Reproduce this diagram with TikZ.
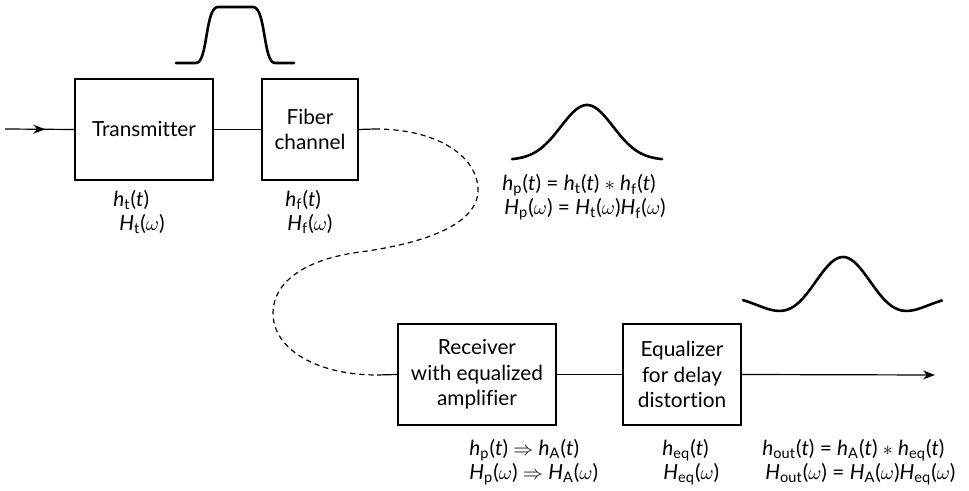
\documentclass[tikz,border=0pt]{standalone}
\usepackage{fontspec}
\usepackage{amsmath}
\setmainfont{Lato}[RawFeature=-liga]
\usetikzlibrary{arrows.meta,decorations.markings}
\newcommand\vi[1]{\textit{#1}}
\newcommand\sbs[1]{$_{\text{#1}}$}
\newcommand\om{$\omega$}
\begin{document}
\begin{tikzpicture}[x=0.5pt,y=-0.5pt,
  box/.style={draw,line width=0.6pt,minimum height=50.5pt,inner sep=1pt,align=center,font=\fontsize{10.4}{12.7}\selectfont},
  lbl/.style={anchor=west,inner sep=0pt,font=\fontsize{10.4}{12}\selectfont},
  wire/.style={line width=0.6pt},
  dashwire/.style={line width=0.6pt,dash pattern=on 2.6pt off 2pt},
  pulse/.style={line width=1.3pt,line cap=round},
  tip/.style={-{Stealth[length=6pt,width=4.5pt]}}]
\useasboundingbox (0,0) rectangle (969,491);

% boxes
\node[box,minimum width=69pt] (tx) at (144,129.5) {Transmitter};
\node[box,minimum width=48pt] (fc) at (310,129.5) {Fiber\\channel};
\node[box,minimum width=79pt] (rx) at (477,374.5) {Receiver\\with equalized\\amplifier};
\node[box,minimum width=59pt] (eq) at (682,374.5) {Equalizer\\for delay\\distortion};

% connectors
\coordinate (in) at (5,129);
\coordinate (d0) at (375,129);
\coordinate (d1) at (377,375);
\coordinate (out) at (935,375);
\draw[wire,postaction={decorate},decoration={markings,mark=at position 0.58 with {\arrow{Stealth[length=6pt,width=4.5pt]}}}] (in) -- (tx.west);
\draw[wire] (tx.east) -- (fc.west);
\draw[wire] (fc.east) -- (d0);
\draw[dashwire] (d0) .. controls (440,129) and (478,158) .. (478,190)
  .. controls (478,226) and (420,244) .. (360,252)
  .. controls (300,260) and (273,285) .. (273,313)
  .. controls (273,350) and (318,375) .. (d1);
\draw[wire] (d1) -- (rx.west);
\draw[wire] (rx.east) -- (eq.west);
\draw[wire,tip] (eq.east) -- (out);

% pulses
\draw[pulse] (176,63) -- (196,63) .. controls (208,63) and (205,7) .. (218,7) -- (253,7)
  .. controls (266,7) and (263,63) .. (275,63) -- (294,63);
\draw[pulse] plot[domain=512:662,samples=60,smooth] (\x,{160-55*exp(-((\x-587)/37)^2)});
\draw[pulse] plot[domain=743:942,samples=80,smooth] (\x,{294.3-37.3*(1-((\x-843)/36.7)^2)*exp(-0.5*((\x-843)/36.7)^2)});

% labels
\node[lbl] (l1) at (113,200) {\vi{h}\sbs{t}(\vi{t})};
\node[lbl] (l2) at (119,224) {\vi{H}\sbs{t}(\om)};
\node[lbl] (l3) at (285,200) {\vi{h}\sbs{f}(\vi{t})};
\node[lbl] (l4) at (287,224) {\vi{H}\sbs{f}(\om)};
\node[lbl] (l5) at (502,185) {\vi{h}\sbs{p}(\vi{t}) = \vi{h}\sbs{t}(\vi{t}) $*$ \vi{h}\sbs{f}(\vi{t})};
\node[lbl] (l6) at (504,209) {\vi{H}\sbs{p}(\om) = \vi{H}\sbs{t}(\om)\vi{H}\sbs{f}(\om)};
\node[lbl] (l7) at (469,450) {\vi{h}\sbs{p}(\vi{t}) $\Rightarrow$ \vi{h}\sbs{A}(\vi{t})};
\node[lbl] (l8) at (469,474) {\vi{H}\sbs{p}(\om) $\Rightarrow$ \vi{H}\sbs{A}(\om)};
\node[lbl] (l9) at (662,450) {\vi{h}\sbs{eq}(\vi{t})};
\node[lbl] (l10) at (663,474) {\vi{H}\sbs{eq}(\om)};
\node[lbl] (l11) at (762,450) {\vi{h}\sbs{out}(\vi{t}) = \vi{h}\sbs{A}(\vi{t}) $*$ \vi{h}\sbs{eq}(\vi{t})};
\node[lbl] (l12) at (765,474) {\vi{H}\sbs{out}(\om) = \vi{H}\sbs{A}(\om)\vi{H}\sbs{eq}(\om)};
\end{tikzpicture}
\end{document}
